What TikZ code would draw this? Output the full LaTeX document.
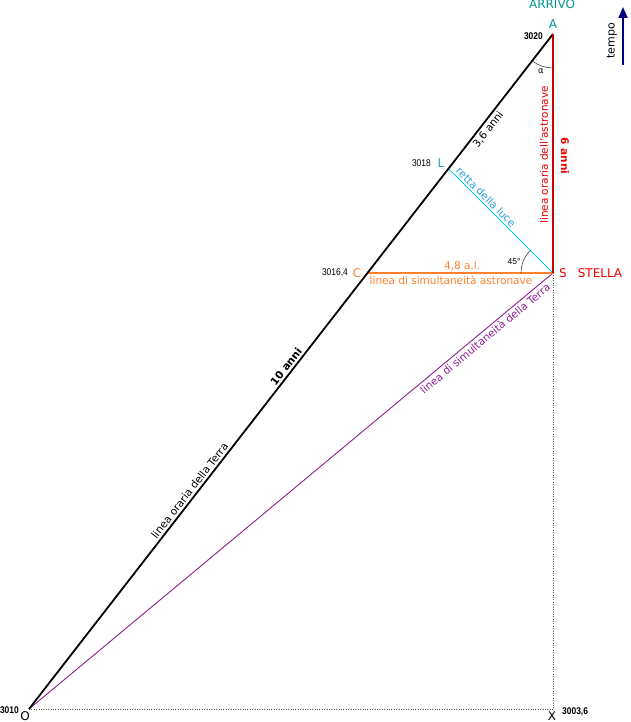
\documentclass[tikz,border=0pt]{standalone}
\usepackage{fontspec}
\setmainfont{DejaVu Sans}
\newfontfamily\numfont[FakeStretch=0.86]{Liberation Sans}
\newfontfamily\plainnum{Liberation Sans}
\usetikzlibrary{arrows.meta,calc}
\definecolor{tealc}{RGB}{0,150,150}
\definecolor{lblue}{RGB}{40,160,215}
\definecolor{cyanl}{RGB}{0,215,230}
\definecolor{orangec}{RGB}{255,128,42}
\definecolor{redl}{RGB}{210,0,0}
\definecolor{redt}{RGB}{235,0,0}
\definecolor{purplec}{RGB}{140,30,150}
\definecolor{navyc}{RGB}{0,0,128}
\definecolor{grayd}{RGB}{90,90,90}
\begin{document}
\begin{tikzpicture}[x=1pt,y=-1pt,
  lab/.style={font=\fontsize{10.5}{12}\selectfont, inner sep=2pt},
  big/.style={font=\fontsize{12}{14}\selectfont, inner sep=0pt},
  num/.style={font=\numfont\fontsize{9.8}{11}\selectfont, inner sep=0pt},
  numb/.style={font=\numfont\bfseries\fontsize{9.8}{11}\selectfont, inner sep=0pt},
  dotl/.style={grayd, line width=0.8pt, dash pattern=on 0.8pt off 1.6pt},
  angarc/.style={black!75, line width=0.6pt}]
\useasboundingbox (0,0) rectangle (630,722);
% points
\coordinate (A) at (553,34);
\coordinate (S) at (553,273);
\coordinate (O) at (29,709);
\coordinate (X) at (553,709);
\coordinate (C) at (367.5,273);
\coordinate (L) at (448.6,168.6);
% dotted lines
\draw[dotl] (S) -- (X);
\draw[dotl] (O) -- (X);
% purple line
\draw[purplec, line width=0.9pt] (O) -- (S)
  node[lab, pos=0.862, sloped, below, text=purplec] (lsT) {linea di simultaneità della Terra};
% orange line
\draw[orangec, line width=1.5pt] (C) -- (S)
  node[lab, pos=0.51, above, text=orangec] (l48) {4,8 a.l.}
  node[lab, pos=0.45, below, text=orangec] (lsA) {linea di simultaneità astronave};
% cyan line
\draw[cyanl, line width=0.8pt] (L) -- (S)
  node[lab, pos=0.315, sloped, above, text=lblue] (lrl) {retta della luce};
% black line
\draw[black, line width=1.8pt] (O) -- (A)
  node[lab, pos=0.317, sloped, above] (loT) {linea oraria della Terra}
  node[lab, pos=0.501, sloped, above, font=\bfseries\fontsize{10.5}{12}\selectfont] (l10) {10 anni}
  node[lab, pos=0.865, sloped, below] (l36) {3,6 anni};
% red line
\draw[redl, line width=2pt] (A) -- (S);
\node[lab, rotate=90, text=redt] (loA) at (544,155) {linea oraria dell'astronave};
\node[lab, rotate=-90, text=redt, font=\bfseries\fontsize{10.5}{12}\selectfont] (l6) at (565,156) {6 anni};
% angle arcs
\draw[angarc] ([shift={(127.8:34)}]A) arc[start angle=127.8, end angle=90, radius=34];
\node[font=\fontsize{8.5}{10}\selectfont, inner sep=0pt] (alpha) at (541,71) {α};
\draw[angarc] ([shift={(180:32)}]S) arc[start angle=180, end angle=225, radius=32];
\node[font=\plainnum\fontsize{8.5}{9}\selectfont, inner sep=0pt] (a45) at (514,262) {45°};
% point labels
\node[big, text=tealc] (arrivo) at (552,4) {ARRIVO};
\node[big, text=tealc] (lA) at (553,24) {A};
\node[numb, anchor=east] (n3020) at (543,36) {3020};
\node[big, text=lblue] (lL) at (441,163) {L};
\node[num, anchor=east] (n3018) at (431,163) {3018};
\node[big, text=orangec] (lC) at (357,273) {C};
\node[num, anchor=east] (n3016) at (348,273) {3016,4};
\node[big, text=redt] (lS) at (563,273) {S};
\node[big, text=redt] (stella) at (600,273) {STELLA};
\node[big] (lO) at (25,716) {O};
\node[big] (lX) at (552,716) {X};
\node[numb, anchor=east] (n3010) at (19,710) {3010};
\node[numb, anchor=west] (n3003) at (562,712) {3003,6};
% time arrow
\coordinate (t0) at (623,65);
\coordinate (t1) at (623,7);
\draw[navyc, line width=2pt, -{Triangle[length=11pt,width=9pt]}] (t0) -- (t1);
\node[font=\fontsize{11}{12}\selectfont, rotate=90, inner sep=0pt] (tempo) at (612,41) {tempo};
\end{tikzpicture}
\end{document}
